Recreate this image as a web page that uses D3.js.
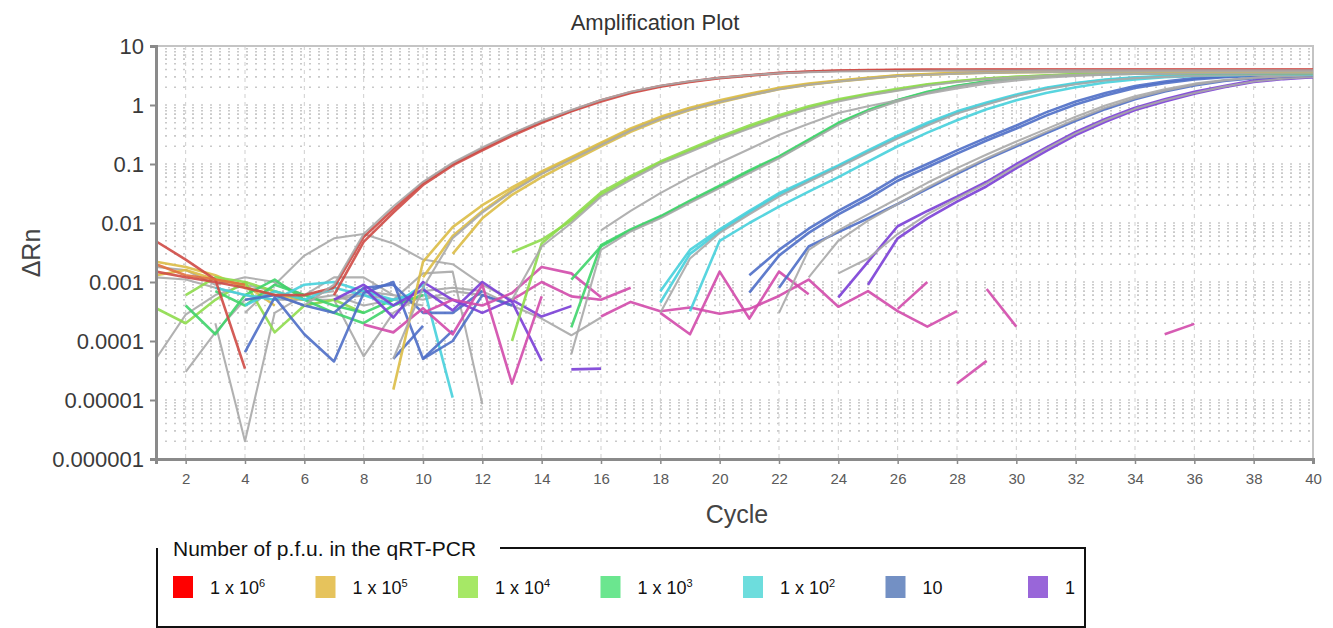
<!DOCTYPE html>
<html>
<head>
<meta charset="utf-8">
<script src="https://cdn.jsdelivr.net/npm/d3@7"></script>
<style>
  body { margin: 0; background: #fff; }
  svg text { font-family: "Liberation Sans", Arial, sans-serif; }
</style>
</head>
<body>
<div id="chart"></div>
<script>
// ---- data (cycle of first value, then ΔRn per cycle) ----
var red1 = [0.0008, 0.0058, 0.017, 0.048, 0.1, 0.18, 0.32, 0.52, 0.8, 1.2, 1.65, 2.1, 2.5, 2.9, 3.2, 3.5, 3.7, 3.85, 3.9, 3.95, 3.98, 4.0, 4.0, 4.0, 4.0, 4.0, 4.0, 4.0, 4.0, 4.0, 4.0, 4.0, 4.0, 4.0]
var red2 = [0.0006, 0.0048, 0.015, 0.044, 0.095, 0.17, 0.3, 0.5, 0.78, 1.15, 1.6, 2.05, 2.45, 2.85, 3.15, 3.45, 3.65, 3.8, 3.85, 3.9, 3.92, 3.93, 3.94, 3.95, 3.95, 3.95, 3.95, 3.95, 3.95, 3.95, 3.95, 3.95, 3.95, 3.95]
var redGray = [0.0004, 0.0009, 0.0065, 0.019, 0.05, 0.105, 0.19, 0.33, 0.54, 0.82, 1.22, 1.68, 2.12, 2.52, 2.9, 3.2, 3.45, 3.6, 3.7, 3.75, 3.78, 3.8, 3.82, 3.84, 3.85, 3.86, 3.87, 3.88, 3.88, 3.88, 3.88, 3.88, 3.88, 3.88, 3.88]
var redNoise1 = [0.0049, 0.0024, 0.0011, 0.000034]
var redNoise2 = [0.002, 0.0013, 0.0011, 0.0009]
var redNoise3 = [0.0015, 0.0012, 0.001, 0.0008, 0.0006, 0.0006, 0.0008]

var yellow1 = [0.000015, 0.0022, 0.0085, 0.02, 0.04, 0.075, 0.13, 0.23, 0.4, 0.63, 0.9, 1.2, 1.55, 1.95, 2.3, 2.6, 2.9, 3.2, 3.35, 3.5, 3.6, 3.65, 3.7, 3.72, 3.74, 3.75, 3.76, 3.77, 3.78, 3.78, 3.79, 3.8]
var yellow2 = [0.0012, 0.006, 0.016, 0.036, 0.07, 0.125, 0.22, 0.38, 0.6, 0.86, 1.15, 1.5, 1.9, 2.25, 2.55, 2.85, 3.15, 3.3, 3.45, 3.55, 3.62, 3.66, 3.7, 3.72, 3.73, 3.74, 3.75, 3.75, 3.76, 3.76, 3.76]
var yellow3 = [0.003, 0.012, 0.03, 0.06, 0.11, 0.2, 0.35, 0.56, 0.82, 1.1, 1.45, 1.85, 2.2, 2.5, 2.8, 3.1, 3.28, 3.42, 3.52, 3.6, 3.64, 3.68, 3.7, 3.71, 3.72, 3.73, 3.74, 3.74, 3.75, 3.75]
var yellowGray = [0.00005, 0.0008, 0.0055, 0.015, 0.034, 0.068, 0.12, 0.21, 0.37, 0.58, 0.84, 1.12, 1.45, 1.85, 2.2, 2.5, 2.8, 3.1, 3.25, 3.4, 3.5, 3.56, 3.6, 3.64, 3.66, 3.68, 3.7, 3.7, 3.7, 3.7, 3.7, 3.7]
var yellowNoise1 = [0.0022, 0.0018, 0.0013, 0.0008, 0.0006, 0.0005]
var yellowNoise2 = [0.0013, 0.0016, 0.0011, 0.0009, 0.0004]

var lgreen1 = [0.0032, 0.0052, 0.011, 0.03, 0.058, 0.105, 0.17, 0.27, 0.42, 0.63, 0.9, 1.2, 1.5, 1.8, 2.2, 2.5, 2.8, 3.0, 3.15, 3.3, 3.4, 3.45, 3.5, 3.52, 3.55, 3.58, 3.6, 3.62]
var lgreen2 = [0.0001, 0.0045, 0.012, 0.033, 0.062, 0.11, 0.18, 0.29, 0.45, 0.67, 0.95, 1.25, 1.55, 1.88, 2.25, 2.55, 2.82, 3.02, 3.17, 3.3, 3.38, 3.44, 3.48, 3.5, 3.52, 3.55, 3.57, 3.6]
var lgreenGray = [0.0005, 0.004, 0.01, 0.028, 0.054, 0.1, 0.16, 0.26, 0.4, 0.6, 0.86, 1.15, 1.45, 1.75, 2.12, 2.45, 2.75, 2.95, 3.12, 3.25, 3.35, 3.42, 3.46, 3.5, 3.52, 3.54, 3.56, 3.58]
var lgreenGray2 = [0.0075, 0.016, 0.032, 0.06, 0.105, 0.18, 0.31, 0.48, 0.73, 0.95, 1.2, 1.55, 1.9, 2.3, 2.6, 2.9, 3.1, 3.25, 3.35, 3.4, 3.45, 3.48, 3.5, 3.52, 3.54]
var lgreenNoise1 = [0.00036, 0.0002, 0.0005, 0.001, 0.00014, 0.0004, 0.0005, 0.0003]
var lgreenNoise2 = [0.0006, 0.0012, 0.001, 0.0007, 0.0005]

var green1 = [0.0011, 0.004, 0.0075, 0.0126, 0.023, 0.041, 0.075, 0.13, 0.25, 0.48, 0.8, 1.2, 1.65, 2.1, 2.5, 2.85, 3.1, 3.25, 3.35, 3.4, 3.45, 3.47, 3.48, 3.49, 3.5, 3.5]
var green2 = [0.00017, 0.0042, 0.0078, 0.013, 0.024, 0.043, 0.078, 0.135, 0.26, 0.5, 0.82, 1.22, 1.68, 2.12, 2.52, 2.88, 3.12, 3.27, 3.37, 3.42, 3.46, 3.48, 3.5, 3.5, 3.5, 3.5]
var greenGray = [0.00006, 0.0035, 0.0072, 0.012, 0.022, 0.039, 0.07, 0.125, 0.24, 0.46, 0.78, 1.15, 1.6, 2.05, 2.45, 2.8, 3.05, 3.2, 3.3, 3.35, 3.4, 3.42, 3.44, 3.45, 3.46, 3.47]
var greenNoise1 = [0.0004, 0.00013, 0.0006, 0.0011, 0.0005, 0.0003, 0.0002, 0.0004, 0.0006]
var greenNoise2 = [0.0007, 0.0004, 0.0009, 0.0006, 0.0004, 0.0003, 0.0005]

var cyan1 = [0.0007, 0.0035, 0.0078, 0.016, 0.032, 0.055, 0.095, 0.17, 0.3, 0.5, 0.78, 1.1, 1.5, 1.95, 2.35, 2.7, 2.95, 3.1, 3.2, 3.25, 3.3, 3.3, 3.35]
var cyan2 = [0.00045, 0.003, 0.0072, 0.015, 0.03, 0.052, 0.09, 0.16, 0.28, 0.47, 0.74, 1.05, 1.45, 1.9, 2.3, 2.65, 2.9, 3.05, 3.15, 3.2, 3.25, 3.28, 3.3]
var cyan3 = [0.00032, 0.005, 0.01, 0.019, 0.034, 0.06, 0.11, 0.2, 0.34, 0.55, 0.85, 1.2, 1.6, 2.0, 2.4, 2.7, 2.95, 3.1, 3.2, 3.25, 3.3, 3.3]
var cyanGray = [0.0003, 0.0025, 0.0068, 0.014, 0.028, 0.05, 0.087, 0.155, 0.27, 0.45, 0.72, 1.02, 1.42, 1.85, 2.25, 2.6, 2.85, 3.0, 3.1, 3.18, 3.22, 3.25, 3.28]
var cyanNoise1 = [0.0004, 0.0007, 0.0005, 0.0008, 0.0006, 0.0004, 0.0009, 0.000011]
var cyanNoise2 = [0.0008, 0.0006, 0.0005, 0.0009, 0.001, 0.0007, 0.0005, 0.0007]

var blue1 = [0.0013, 0.0035, 0.008, 0.016, 0.03, 0.06, 0.1, 0.17, 0.28, 0.45, 0.75, 1.15, 1.6, 2.1, 2.5, 2.85, 3.05, 3.2, 3.3, 3.35]
var blue2 = [0.00066, 0.0028, 0.0068, 0.014, 0.026, 0.052, 0.088, 0.15, 0.25, 0.4, 0.66, 1.02, 1.45, 1.95, 2.35, 2.7, 2.95, 3.1, 3.2, 3.3]
var blue3 = [0.0008, 0.004, 0.007, 0.012, 0.021, 0.038, 0.068, 0.12, 0.2, 0.33, 0.54, 0.85, 1.25, 1.7, 2.15, 2.55, 2.85, 3.05, 3.2]
var blueGray = [0.0003, 0.0035, 0.0075, 0.014, 0.026, 0.048, 0.085, 0.145, 0.24, 0.39, 0.63, 0.98, 1.4, 1.85, 2.3, 2.65, 2.9, 3.05, 3.2]
var blueGray2 = [0.0012, 0.005, 0.011, 0.021, 0.04, 0.072, 0.125, 0.21, 0.35, 0.57, 0.9, 1.3, 1.75, 2.2, 2.6, 2.9, 3.1, 3.2]
var blueNoise1 = [0.000065, 0.00055, 0.00013, 0.000045, 0.00065, 0.001, 0.00005, 0.00015]
var blueNoise2 = [0.0005, 0.0006, 0.0004, 0.0003, 0.0008, 0.0009, 0.0003, 0.0003, 0.0007]
var blueNoise3 = [0.00005, 0.00018]
var blueNoise4 = [0.00005, 0.0001, 0.0006, 0.0004]

var purple1 = [0.00055, 0.0022, 0.0088, 0.016, 0.028, 0.05, 0.1, 0.19, 0.35, 0.58, 0.9, 1.25, 1.67, 2.1, 2.6, 2.85, 3.0]
var purple2 = [0.0009, 0.0055, 0.012, 0.023, 0.042, 0.085, 0.165, 0.31, 0.52, 0.82, 1.15, 1.55, 2.0, 2.45, 2.75, 2.95]
var purpleGray = [0.0014, 0.0025, 0.0065, 0.014, 0.026, 0.047, 0.092, 0.18, 0.33, 0.55, 0.86, 1.2, 1.6, 2.05, 2.5, 2.8, 2.98]
var purpleNoise1 = [0.0005, 0.0009, 0.0004, 0.00075, 0.00033, 0.001, 0.00046, 0.000046]
var purpleNoise2 = [0.0005, 0.00026, 0.00039]
var purpleNoise3 = [0.000033, 0.000034]
var purpleNoise4 = [0.0008, 0.00025, 0.001, 0.0005, 0.0003, 0.0005]

var magenta1 = [0.00019, 0.00014, 0.00036, 0.00013, 0.0009, 0.000019, 0.00057]
var magenta2 = [0.0003, 0.0005, 0.0004, 0.00065, 0.0018, 0.0014, 0.00055]
var magenta3 = [0.0005, 0.001, 0.00057, 0.0005, 0.0008]
var magenta4 = [0.00026, 0.00046, 0.00032, 0.00037, 0.00029, 0.00035, 0.00058, 0.0011, 0.00038, 0.0007, 0.00032, 0.000175, 0.00032]
var magenta5 = [0.0003, 0.00013, 0.0015, 0.00024, 0.0015, 0.00062]
var magenta6 = [0.00035, 0.001]
var magenta7 = [0.00076, 0.000175]
var magenta8 = [0.000019, 0.000046]
var magenta9 = [0.00013, 0.000195]

var grayNoise1 = [0.00005, 0.00028, 0.0006, 0.0009, 0.0007, 0.0005, 0.0006, 0.0004, 0.0005, 0.0004]
var grayNoise2 = [0.00003, 0.00014, 0.0005, 0.0006, 0.0004, 0.0005, 0.0007, 0.0006]
var grayNoise3 = [0.0002, 0.000002, 0.0003, 0.0006, 0.0007]
var grayNoise4 = [0.0003, 0.0009, 0.0028, 0.0055, 0.0065, 0.0045, 0.0024, 0.002, 0.0009, 0.0005]
var grayNoise5 = [0.0018, 0.0016, 0.0009, 0.0012, 0.001, 0.0006, 0.0012, 0.0012, 0.0006, 0.0005, 0.0007]
var grayNoise6 = [0.0012, 0.0011, 0.0008, 0.0006, 0.0005, 0.0005, 0.0005, 0.0006, 0.0005, 0.0007, 0.0008, 0.0007, 0.0004]
var grayNoise7 = [0.0005, 0.000055, 0.0003, 0.0006, 0.0005]
var grayNoise8 = [0.0005, 0.0014, 0.0015, 0.0000085]
var grayNoise9 = [0.0007, 0.0006, 0.0004, 0.00024, 0.000125, 0.00025]

var yTicks = [10, 1, 0.1, 0.01, 0.001, 0.0001, 0.00001, 0.000001]
var yTickLabels = ['10', '1', '0.1', '0.01', '0.001', '0.0001', '0.00001', '0.000001']
var xTicks = [2, 4, 6, 8, 10, 12, 14, 16, 18, 20, 22, 24, 26, 28, 30, 32, 34, 36, 38, 40]

var legendBase = ['1 x 10', '1 x 10', '1 x 10', '1 x 10', '1 x 10', '10', '1']
var legendSup = ['6', '5', '4', '3', '2', '', '']
var legendColors = ['#ff0000', '#e6c35c', '#a6e866', '#6be68f', '#6ddddd', '#7390c4', '#9966d9']

// ---- colours ----
var RED = '#cf4a45', ORANGE = '#e0703e', YEL = '#dcbc46', LGR = '#8edc4c', GRN = '#3fd46a',
    CYN = '#46d0dc', BLU = '#4e6ec6', PUR = '#7a3ed6', MAG = '#d24aab', GRY = '#a9a9a9'

// start cycle of each trace; noise first, amplification curves on top
var traces = [
  [grayNoise1, 1, GRY], [grayNoise2, 2, GRY], [grayNoise3, 3, GRY], [grayNoise4, 4, GRY],
  [grayNoise5, 1, GRY], [grayNoise6, 1, GRY], [grayNoise7, 7, GRY], [grayNoise8, 9, GRY],
  [grayNoise9, 11, GRY],
  [yellowNoise1, 1, YEL], [yellowNoise2, 1, YEL],
  [lgreenNoise1, 1, LGR], [lgreenNoise2, 2, LGR],
  [greenNoise1, 2, GRN], [greenNoise2, 3, GRN],
  [cyanNoise1, 4, CYN], [cyanNoise2, 3, CYN],
  [blueNoise1, 4, BLU], [blueNoise2, 4, BLU], [blueNoise3, 9, BLU], [blueNoise4, 10, BLU],
  [purpleNoise1, 7, PUR], [purpleNoise2, 13, PUR], [purpleNoise3, 15, PUR], [purpleNoise4, 8, PUR],
  [magenta1, 8, MAG], [magenta2, 10, MAG], [magenta3, 13, MAG], [magenta4, 16, MAG],
  [magenta5, 18, MAG], [magenta6, 26, MAG], [magenta7, 29, MAG], [magenta8, 28, MAG], [magenta9, 35, MAG],
  [redNoise1, 1, RED], [redNoise2, 1, ORANGE], [redNoise3, 1, RED],
  [purple1, 24, PUR], [purple2, 25, PUR], [purpleGray, 24, GRY],
  [blue1, 21, BLU], [blue2, 21, BLU], [blue3, 22, BLU], [blueGray, 22, GRY], [blueGray2, 23, GRY],
  [cyan1, 18, CYN], [cyan2, 18, CYN], [cyan3, 19, CYN], [cyanGray, 18, GRY],
  [green1, 15, GRN], [green2, 15, GRN], [greenGray, 15, GRY],
  [lgreen1, 13, LGR], [lgreen2, 13, LGR], [lgreenGray, 13, GRY], [lgreenGray2, 16, GRY],
  [yellow1, 9, YEL], [yellow2, 10, YEL], [yellow3, 11, YEL], [yellowGray, 9, GRY],
  [red1, 7, RED], [red2, 7, RED], [redGray, 6, GRY]
]

var W = 1333, H = 628
var svg = d3.select('#chart').append('svg').attr('width', W).attr('height', H)

var x = d3.scaleLinear().domain([1, 40]).range([156, 1313])
var y = d3.scaleLog().domain([0.000001, 10]).range([459, 46])

// grid
var grid = svg.append('g')
var minor = []
yTicks.slice(1).forEach(function(d) {
  for (var k = 1; k < 10; k++) minor.push(d * k)
})
grid.selectAll('line.h').data(minor).enter().append('line')
  .attr('x1', x(1)).attr('x2', x(40))
  .attr('y1', function(d) { return y(d) }).attr('y2', function(d) { return y(d) })
  .attr('stroke', '#c9c9c9').attr('stroke-width', 1.6).attr('stroke-dasharray', '2,7')
grid.selectAll('line.v').data(xTicks.slice(0, -1)).enter().append('line')
  .attr('x1', function(d) { return x(d) }).attr('x2', function(d) { return x(d) })
  .attr('y1', y(10)).attr('y2', y(0.000001))
  .attr('stroke', '#cfcfcf').attr('stroke-width', 1).attr('stroke-dasharray', '4,4')

// frame
svg.append('rect').attr('x', x(1)).attr('y', y(10))
  .attr('width', x(40) - x(1)).attr('height', y(0.000001) - y(10))
  .attr('fill', 'none').attr('stroke', '#c4c4c4').attr('stroke-width', 2)

svg.append('clipPath').attr('id', 'plot').append('rect')
  .attr('x', x(1)).attr('y', y(10)).attr('width', x(40) - x(1)).attr('height', y(0.000001) - y(10))

var line = d3.line().x(function(d) { return x(d[0]) }).y(function(d) { return y(d[1]) })

svg.append('g').attr('clip-path', 'url(#plot)')
  .selectAll('path').data(traces).enter().append('path')
  .attr('d', function(t) { return line(t[0].map(function(v, i) { return [t[1] + i, v] })) })
  .attr('fill', 'none')
  .attr('stroke', function(t) { return t[2] })
  .attr('stroke-width', function(t) { return t[2] === GRY ? 2.1 : 2.6 })
  .attr('stroke-opacity', 0.9)
  .attr('stroke-linejoin', 'round')

// axes
var yAxis = svg.append('g').attr('transform', 'translate(' + x(1) + ',0)')
  .call(d3.axisLeft(y).tickValues(yTicks).tickFormat(function(d, i) { return yTickLabels[i] }).tickSize(6).tickPadding(6))
yAxis.select('.domain').attr('stroke', '#8a8a8a').attr('stroke-width', 3)
yAxis.selectAll('.tick line').attr('stroke', '#8a8a8a').attr('stroke-width', 2)
yAxis.selectAll('.tick text').attr('font-size', 22).attr('fill', '#3a3a3a')
  .attr('font-family', 'Liberation Sans, Arial, sans-serif')

var xAxis = svg.append('g').attr('transform', 'translate(0,' + y(0.000001) + ')')
  .call(d3.axisBottom(x).tickValues(xTicks).tickSize(5).tickPadding(9))
xAxis.select('.domain').attr('stroke', '#8a8a8a').attr('stroke-width', 3)
xAxis.selectAll('.tick line').attr('stroke', '#8a8a8a').attr('stroke-width', 1.5)
xAxis.selectAll('.tick text').attr('font-size', 15).attr('fill', '#5a5a5a')
  .attr('font-family', 'Liberation Sans, Arial, sans-serif')

// titles
svg.append('text').attr('x', 655).attr('y', 30).attr('text-anchor', 'middle')
  .attr('font-size', 22).attr('fill', '#333').text('Amplification Plot')
svg.append('text').attr('x', 737).attr('y', 523).attr('text-anchor', 'middle')
  .attr('font-size', 25).attr('fill', '#444').text('Cycle')
svg.append('text').attr('transform', 'translate(40,253) rotate(-90)').attr('text-anchor', 'middle')
  .attr('font-size', 25).attr('fill', '#444').text('ΔRn')

// legend
var lg = svg.append('g').attr('font-family', 'Liberation Sans, Arial, sans-serif')
lg.append('path').attr('d', 'M500,548 H1085 V627 H157 V548')
  .attr('fill', 'none').attr('stroke', '#111').attr('stroke-width', 2)
lg.append('text').attr('x', 173).attr('y', 556).attr('font-size', 21).attr('fill', '#111')
  .text('Number of p.f.u. in the qRT-PCR')
var items = lg.selectAll('g.item').data(legendBase).enter().append('g')
  .attr('transform', function(d, i) { return 'translate(' + (173 + i * 142.5) + ',576)' })
items.append('rect').attr('width', 20).attr('height', 22)
  .attr('fill', function(d, i) { return legendColors[i] })
var lt = items.append('text').attr('x', 37).attr('y', 18).attr('font-size', 18).attr('fill', '#111')
lt.append('tspan').text(function(d) { return d })
lt.append('tspan').attr('dy', -7).attr('font-size', 11).text(function(d, i) { return legendSup[i] })
</script>
</body>
</html>
